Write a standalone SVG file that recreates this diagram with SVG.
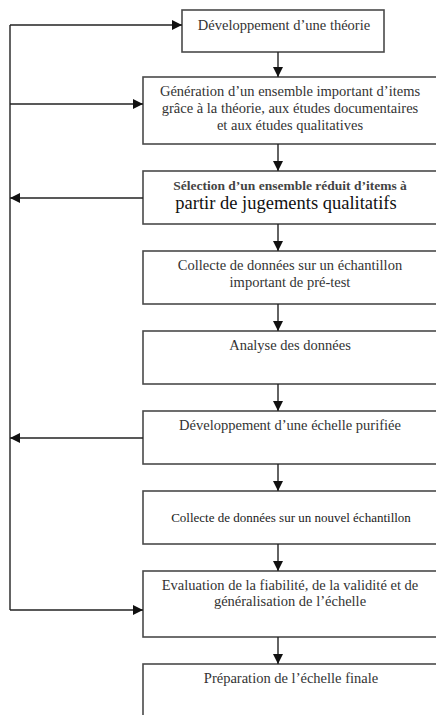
<svg xmlns="http://www.w3.org/2000/svg" width="436" height="715" viewBox="0 0 436 715">
<style>
.box{fill:#fff;stroke:#4a4a4a;stroke-width:1.6}
.t{font-family:"Liberation Serif","Times New Roman",serif;font-size:14.5px;fill:#333;text-anchor:middle}
.ln{fill:none;stroke:#222;stroke-width:1.4}
</style>
<defs>
<marker id="ah" viewBox="0 0 10 10" refX="10" refY="5" markerWidth="10" markerHeight="10" markerUnits="userSpaceOnUse" orient="auto">
<path d="M0,0 L10,5 L0,10 z" fill="#111"/>
</marker>
</defs>
<rect width="436" height="715" fill="#fff"/>
<g id="n1"><rect class="box" x="182" y="10" width="202" height="42"/><text class="t" x="284" y="30">Développement d’une théorie</text></g>
<g id="n2"><rect class="box" x="143" y="77" width="296" height="67"/><text class="t" x="290" y="96">Génération d’un ensemble important d’items</text><text class="t" x="290" y="113">grâce à la théorie, aux études documentaires</text><text class="t" x="290" y="130">et aux études qualitatives</text></g>
<g id="n3"><rect class="box" x="143" y="171" width="296" height="53"/><text class="t" x="290" y="190" style="fill:#444;font-weight:bold;font-size:13.5px">Sélection d’un ensemble réduit d’items à</text><text class="t" x="286" y="209" style="font-size:18.5px;fill:#111">partir de jugements qualitatifs</text></g>
<g id="n4"><rect class="box" x="143" y="251" width="296" height="53"/><text class="t" x="290" y="270">Collecte de données sur un échantillon</text><text class="t" x="290" y="287">important de pré-test</text></g>
<g id="n5"><rect class="box" x="143" y="331" width="296" height="53"/><text class="t" x="290" y="350">Analyse des données</text></g>
<g id="n6"><rect class="box" x="143" y="411" width="296" height="53"/><text class="t" x="290" y="430">Développement d’une échelle purifiée</text></g>
<g id="n7"><rect class="box" x="143" y="491" width="296" height="53"/><text class="t" x="291" y="522" style="font-size:13px;fill:#222">Collecte de données sur un nouvel échantillon</text></g>
<g id="n8"><rect class="box" x="143" y="571" width="296" height="66"/><text class="t" x="290" y="590">Evaluation de la fiabilité, de la validité et de</text><text class="t" x="290" y="606">généralisation de l’échelle</text></g>
<g id="n9"><rect class="box" x="143" y="664" width="296" height="80"/><text class="t" x="291" y="683">Préparation de l’échelle finale</text></g>
<g id="connectors">
<line class="ln" x1="278" y1="52" x2="278" y2="77" marker-end="url(#ah)"/>
<line class="ln" x1="278" y1="144" x2="278" y2="171" marker-end="url(#ah)"/>
<line class="ln" x1="278" y1="224" x2="278" y2="251" marker-end="url(#ah)"/>
<line class="ln" x1="278" y1="304" x2="278" y2="331" marker-end="url(#ah)"/>
<line class="ln" x1="278" y1="384" x2="278" y2="411" marker-end="url(#ah)"/>
<line class="ln" x1="278" y1="464" x2="278" y2="491" marker-end="url(#ah)"/>
<line class="ln" x1="278" y1="544" x2="278" y2="571" marker-end="url(#ah)"/>
<line class="ln" x1="278" y1="637" x2="278" y2="664" marker-end="url(#ah)"/>
<line class="ln" x1="10" y1="25" x2="10" y2="610" stroke="#444"/>
<line class="ln" x1="10" y1="25" x2="182" y2="25" marker-end="url(#ah)"/>
<line class="ln" x1="10" y1="104" x2="143" y2="104" marker-end="url(#ah)"/>
<line class="ln" x1="143" y1="198" x2="10" y2="198" marker-end="url(#ah)"/>
<line class="ln" x1="143" y1="438" x2="10" y2="438" marker-end="url(#ah)"/>
<line class="ln" x1="10" y1="610" x2="143" y2="610" marker-end="url(#ah)"/>
</g>
</svg>
